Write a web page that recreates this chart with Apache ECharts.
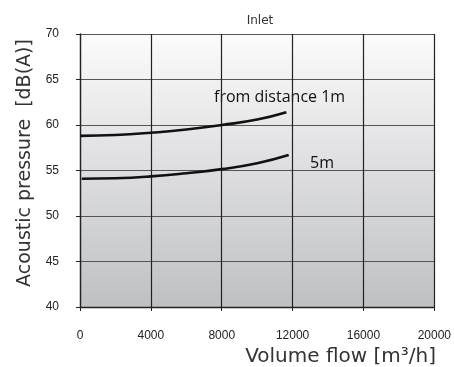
<!DOCTYPE html>
<html>
<head>
<meta charset="utf-8">
<script src="https://cdn.jsdelivr.net/npm/echarts@6/dist/echarts.min.js"></script>
<style>
  html, body { margin: 0; padding: 0; background: #fff; }
  #chart { width: 454px; height: 367px; }
</style>
</head>
<body>
<div id="chart"></div>
<script>
// curve points: [flow m3/h, dB(A)]
const flow1m = [0, 2000, 4000, 6000, 8000, 10000, 11650];
const db1m = [58.8, 58.9, 59.15, 59.5, 60.0, 60.6, 61.4];
const flow5m = [100, 2000, 4000, 6000, 8000, 10000, 11780];
const db5m = [54.1, 54.15, 54.35, 54.7, 55.15, 55.8, 56.7];

const toPairs = (xs, ys) => xs.map((x, i) => [x, ys[i]]);

const chart = echarts.init(document.getElementById('chart'));

const axisFont = { color: '#222', fontSize: 12, fontFamily: 'Liberation Sans' };

chart.setOption({
  animation: false,
  title: {
    text: 'Inlet',
    left: 255,
    top: 10,
    textAlign: 'center',
    textStyle: { fontSize: 12, fontWeight: 'normal', color: '#333', fontFamily: 'DejaVu Sans' }
  },
  grid: {
    left: 80, right: 19, top: 34, bottom: 60,
    show: true,
    borderWidth: 0,
    backgroundColor: {
      type: 'linear', x: 0, y: 0, x2: 0, y2: 1,
      colorStops: [
        { offset: 0, color: '#fbfbfb' },
        { offset: 1, color: '#bfc0c4' }
      ]
    }
  },
  xAxis: {
    type: 'value',
    min: 0, max: 20000, interval: 4000,
    axisLine: { show: true, lineStyle: { color: '#222', width: 1.3 } },
    axisTick: { show: true, length: 4, lineStyle: { color: '#222' } },
    axisLabel: Object.assign({ margin: 23, formatter: v => String(v) }, axisFont),
    splitLine: { show: true, lineStyle: { color: '#222', width: 1.2 } }
  },
  yAxis: {
    type: 'value',
    min: 40, max: 70, interval: 5,
    axisLine: { show: true, lineStyle: { color: '#222', width: 1.3 } },
    axisTick: { show: true, length: 4, lineStyle: { color: '#222' } },
    axisLabel: Object.assign({ margin: 21 }, axisFont),
    splitLine: { show: true, lineStyle: { color: '#555', width: 1.2 } }
  },
  graphic: [
    {
      type: 'text',
      x: 25, y: 163,
      rotation: Math.PI / 2,
      style: {
        text: 'Acoustic pressure  [dB(A)]',
        fill: '#333',
        font: '19px "DejaVu Sans"',
        align: 'center',
        verticalAlign: 'middle'
      }
    },
    {
      type: 'text',
      x: 436, y: 357,
      style: {
        text: 'Volume flow [m³/h]',
        fill: '#333',
        font: '20px "DejaVu Sans"',
        align: 'right',
        verticalAlign: 'middle'
      }
    },
    {
      type: 'text',
      x: 214, y: 97,
      style: {
        text: 'from distance 1m',
        fill: '#111',
        font: '16px "Open Sans"',
        align: 'left',
        verticalAlign: 'middle'
      }
    },
    {
      type: 'text',
      x: 310, y: 163,
      style: {
        text: '5m',
        fill: '#111',
        font: '16px "Open Sans"',
        align: 'left',
        verticalAlign: 'middle'
      }
    }
  ],
  series: [
    {
      name: '1m',
      type: 'line',
      smooth: true,
      symbol: 'none',
      data: toPairs(flow1m, db1m),
      lineStyle: { color: '#111', width: 2.6 }
    },
    {
      name: '5m',
      type: 'line',
      smooth: true,
      symbol: 'none',
      data: toPairs(flow5m, db5m),
      lineStyle: { color: '#111', width: 2.6 }
    }
  ]
});
</script>
</body>
</html>
